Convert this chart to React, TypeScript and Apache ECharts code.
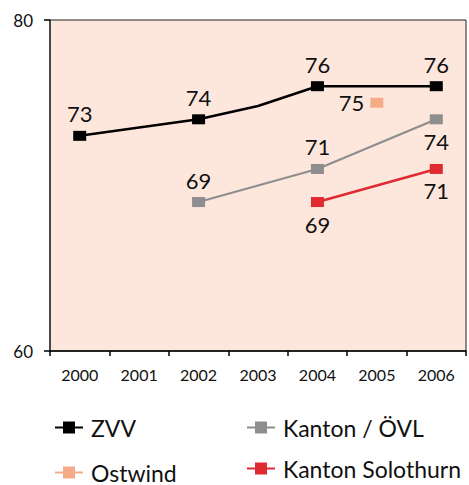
import React, { useEffect, useRef } from "react";
import * as echarts from "echarts";

const years = ["2000", "2001", "2002", "2003", "2004", "2005", "2006"];
const zvv: (number | null)[] = [73, null, 74, 74.8, 76, null, 76];
const kantonOevl: (number | null)[] = [null, null, 69, null, 71, null, 74];
const ostwind: (number | null)[] = [null, null, null, null, null, 75, null];
const solothurn: (number | null)[] = [null, null, null, null, 69, null, 71];
const yTicks = [60, 80];

const FONT = "Lato";
const TXT = "#111";

export default function App() {
  const ref = useRef<HTMLDivElement>(null);
  useEffect(() => {
    const chart = echarts.init(ref.current!, null, { renderer: "svg" });
    const labelBase = { show: true, fontSize: 22, fontFamily: FONT, color: TXT, distance: 6 };
    const mk = (vals: (number | null)[], positions: Record<number, string>, hidden: number[] = []) =>
      vals.map((v, i) => {
        if (v == null) return null;
        if (hidden.includes(i)) return { value: v, symbol: "none", label: { show: false } };
        return { value: v, label: { position: positions[i] || "top" } };
      });
    const option: any = {
      animation: false,
      backgroundColor: "#fff",
      grid: { left: 50, right: 3, top: 20, bottom: 134, show: true, backgroundColor: "#FDE6DB", borderColor: "#222", borderWidth: 1 },
      xAxis: {
        type: "category",
        data: years,
        boundaryGap: true,
        axisLine: { lineStyle: { color: "#000", width: 1.5 } },
        axisTick: { show: true, length: 5, lineStyle: { color: "#000", width: 1.5 } },
        axisLabel: { fontSize: 16, fontFamily: FONT, color: TXT, margin: 15 },
        splitLine: { show: false },
      },
      yAxis: {
        type: "value",
        min: yTicks[0],
        max: yTicks[1],
        interval: yTicks[1] - yTicks[0],
        axisLine: { show: true, lineStyle: { color: "#333", width: 1.5 } },
        axisTick: { show: true, length: 6, lineStyle: { color: "#000", width: 1.5 } },
        axisLabel: { fontSize: 17, fontFamily: FONT, color: TXT, margin: 17 },
        splitLine: { show: false },
      },
      legend: [
        { data: ["ZVV"], left: 54, top: 416 },
        { data: ["Kanton / ÖVL"], left: 246, top: 416 },
        { data: ["Ostwind"], left: 54, top: 461 },
        { data: ["Kanton Solothurn"], left: 246, top: 457 },
      ].map((l) => ({
        ...l,
        itemWidth: 28,
        itemHeight: 15,
        itemGap: 0,
        textStyle: { fontSize: 23, lineHeight: 22, fontFamily: FONT, color: TXT, padding: [0, 0, 0, 3] },
        padding: 0,
      })),
      series: [
        {
          name: "ZVV",
          type: "line",
          data: mk(zvv, {}, [3]),
          connectNulls: true,
          symbol: "rect",
          symbolSize: [13, 10],
          color: "#000",
          lineStyle: { color: "#000", width: 2.5 },
          label: labelBase,
          z: 4,
        },
        {
          name: "Kanton / ÖVL",
          type: "line",
          data: mk(kantonOevl, { 6: "bottom" }),
          connectNulls: true,
          symbol: "rect",
          symbolSize: [13, 10],
          color: "#8E8E8E",
          lineStyle: { color: "#8E8E8E", width: 2.2 },
          label: labelBase,
          z: 3,
        },
        {
          name: "Ostwind",
          type: "line",
          data: mk(ostwind, { 5: "left" }),
          connectNulls: true,
          symbol: "rect",
          symbolSize: [13, 10],
          color: "#F4AC88",
          lineStyle: { color: "#F4AC88", width: 2.5 },
          label: labelBase,
          z: 3,
        },
        {
          name: "Kanton Solothurn",
          type: "line",
          data: mk(solothurn, { 4: "bottom", 6: "bottom" }),
          connectNulls: true,
          symbol: "rect",
          symbolSize: [13, 10],
          color: "#E02A32",
          lineStyle: { color: "#E02A32", width: 2.5 },
          label: labelBase,
          z: 3,
        },
      ],
    };
    chart.setOption(option);
    return () => chart.dispose();
  }, []);
  return <div ref={ref} style={{ width: 469, height: 485, position: "absolute", left: 0, top: 0 }} />;
}
